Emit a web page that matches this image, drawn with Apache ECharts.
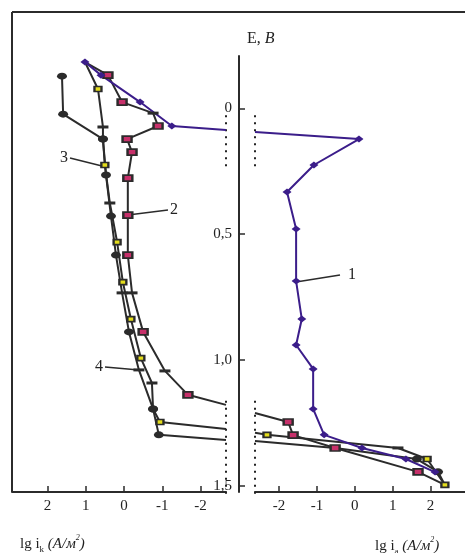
<!DOCTYPE html>
<html>
<head>
<meta charset="utf-8">
<script src="https://cdn.jsdelivr.net/npm/echarts@6/dist/echarts.min.js"></script>
<style>
  html, body { margin: 0; background: #fff; }
  #chart { width: 465px; height: 553px; }
</style>
</head>
<body>
<div id="chart"></div>
<script>
// axis ticks
const xTicks = [-2, -1, 0, 1, 2];
const yTicks = [0, 0.5, 1.0, 1.5];

// [lg i, E] points; marker letters: p diamond, s square, y triangle, d dash, o circle, n none
// curve 1
const c1Cath = [[1.02, -0.184], [0.60, -0.132], [-0.42, -0.025], [-1.25, 0.070], [-2.665, 0.086]];
const c1CathMk = 'ppppn';
const c1Anod = [[-2.636, 0.094], [0.11, 0.122], [-1.08, 0.225], [-1.79, 0.332], [-1.55, 0.479],
  [-1.55, 0.686], [-1.40, 0.837], [-1.55, 0.940], [-1.10, 1.035], [-1.10, 1.194], [-0.81, 1.297],
  [0.19, 1.349], [1.35, 1.393], [2.12, 1.445]];
const c1AnodMk = 'nppppppppppppp';
// curve 2
const c2Cath = [[1.02, -0.184], [0.42, -0.132], [0.05, -0.025], [-0.76, 0.019], [-0.89, 0.070],
  [-0.08, 0.122], [-0.21, 0.174], [-0.10, 0.277], [-0.10, 0.424], [-0.10, 0.583], [-0.21, 0.733],
  [-0.50, 0.888], [-1.07, 1.043], [-1.67, 1.138], [-2.665, 1.178]];
const c2CathMk = 'nssdssssssdsdsn';
const c2Anod = [[-2.636, 1.210], [-1.76, 1.246], [-1.63, 1.298], [-0.52, 1.349], [1.67, 1.444], [2.38, 1.496]];
const c2AnodMk = 'nssssn';
// curve 3
const c3Cath = [[1.02, -0.184], [0.68, -0.077], [0.55, 0.074], [0.55, 0.122], [0.50, 0.225],
  [0.37, 0.376], [0.18, 0.531], [0.03, 0.690], [-0.18, 0.837], [-0.44, 0.992], [-0.73, 1.091],
  [-0.76, 1.194], [-0.94, 1.246], [-2.665, 1.274]];
const c3CathMk = 'nydoydyyyydoyn';
const c3Anod = [[-2.636, 1.289], [-2.32, 1.297], [1.14, 1.349], [1.91, 1.393], [2.38, 1.496]];
const c3AnodMk = 'nydyy';
// curve 4
const c4Cath = [[1.62, -0.128], [1.59, 0.023], [0.55, 0.122], [0.47, 0.265], [0.34, 0.428],
  [0.21, 0.583], [0.05, 0.733], [-0.13, 0.888], [-0.39, 1.039], [-0.76, 1.194], [-0.91, 1.297],
  [-2.665, 1.317]];
const c4CathMk = 'oooooododoon';
const c4Anod = [[-2.636, 1.321], [-0.52, 1.349], [1.64, 1.393], [2.20, 1.444], [2.38, 1.496]];
const c4AnodMk = 'nnoon';

// axis break spans (E)
const breakSpans = [[0.027, 0.245], [1.162, 1.544]];

// curve number callouts: [grid, from, to, text]
const callouts = [
  [1, [-1.553, 0.690], [-0.391, 0.662], '1'],
  [0, [-0.104, 0.424], [-1.149, 0.404], '2'],
  [0, [0.575, 0.229], [1.411, 0.197], '3'],
  [0, [-0.392, 1.039], [0.496, 1.027], '4']
];

const serif = 'Liberation Serif';
const ink = '#2b2b2b';
const violet = '#3b1d8a';

const markers = {
  p: { symbol: 'diamond', symbolSize: [9, 7], itemStyle: { color: violet } },
  s: { symbol: 'rect', symbolSize: [9, 6], itemStyle: { color: '#c7306a', borderColor: ink, borderWidth: 2 } },
  y: { symbol: 'rect', symbolSize: [7, 5], itemStyle: { color: '#e3dc1c', borderColor: ink, borderWidth: 2 } },
  d: { symbol: 'rect', symbolSize: [11, 3], itemStyle: { color: ink } },
  o: { symbol: 'circle', symbolSize: [10, 7], itemStyle: { color: ink } },
  n: { symbol: 'none' }
};

function curve(grid, values, marks, color) {
  return {
    type: 'line', xAxisIndex: grid, yAxisIndex: grid, clip: false,
    data: values.map((v, i) => Object.assign({ value: v }, markers[marks[i]])),
    lineStyle: { color: color, width: 2 },
    itemStyle: { color: color },
    animation: false
  };
}

function breakLine(grid, edge, span) {
  return {
    type: 'line', xAxisIndex: grid, yAxisIndex: grid, clip: false, silent: true,
    data: span.map(e => [edge, e]), symbol: 'none',
    lineStyle: { color: '#222', width: 2, type: [2, 5] },
    animation: false
  };
}

function callout(c) {
  const side = c[0] === 1 || c[3] === '2' ? 'right' : 'left';
  return {
    type: 'line', xAxisIndex: c[0], yAxisIndex: c[0], clip: false, silent: true,
    symbol: 'circle', symbolSize: 0,
    data: [{ value: c[1] }, {
      value: c[2],
      label: { show: true, formatter: c[3], position: side, distance: c[3] === '1' ? 8 : 2,
        fontFamily: serif, fontSize: 16, color: '#222' }
    }],
    lineStyle: { color: ink, width: 1.5 },
    itemStyle: { color: ink },
    animation: false
  };
}

const axisLineStyle = { color: ink, width: 2 };
function xAxisFor(grid, min, max, inverse) {
  return {
    gridIndex: grid, type: 'value', inverse: inverse, min: min, max: max,
    axisLine: { show: true, onZero: false, lineStyle: axisLineStyle },
    axisTick: { show: true, inside: true, length: 6, customValues: xTicks, lineStyle: { color: ink, width: 1.5 } },
    axisLabel: { customValues: xTicks, margin: 7, fontFamily: serif, fontSize: 15, color: '#222' },
    splitLine: { show: false }
  };
}

const chart = echarts.init(document.getElementById('chart'), null, { renderer: 'canvas' });
chart.setOption({
  animation: false,
  backgroundColor: '#fff',
  textStyle: { fontFamily: serif },
  grid: [
    { left: 12, top: 56, width: 214, height: 436 },
    { left: 255, top: 56, width: 210, height: 436 }
  ],
  xAxis: [
    xAxisFor(0, -2.665, 2.926, true),
    xAxisFor(1, -2.636, 2.911, false)
  ],
  yAxis: [
    { gridIndex: 0, type: 'value', inverse: true, min: -0.208, max: 1.524, show: false },
    {
      gridIndex: 1, type: 'value', inverse: true, min: -0.208, max: 1.524,
      position: 'left', offset: 16,
      axisLine: { show: true, onZero: false, lineStyle: axisLineStyle },
      axisTick: { show: true, inside: true, length: 6, customValues: yTicks, lineStyle: { color: ink, width: 1.5 } },
      axisLabel: {
        customValues: yTicks, margin: 7, fontFamily: serif, fontSize: 15, color: '#222',
        formatter: v => v === 0 ? '0' : v.toFixed(1).replace('.', ',')
      },
      splitLine: { show: false }
    }
  ],
  graphic: [
    { type: 'line', shape: { x1: 12, y1: 12, x2: 465, y2: 12 }, style: { stroke: ink, lineWidth: 2 } },
    { type: 'line', shape: { x1: 12, y1: 12, x2: 12, y2: 492 }, style: { stroke: ink, lineWidth: 2 } },
    {
      type: 'text', left: 247, top: 31,
      style: {
        text: '{n|E, }{i|B}', fill: '#222',
        rich: {
          n: { fontFamily: serif, fontSize: 16 },
          i: { fontFamily: serif, fontSize: 16, fontStyle: 'italic' }
        }
      }
    },
    {
      type: 'text', left: 20, top: 534,
      style: {
        text: '{n|lg i}{sub|k}{i| (A/м}{sup|2}{i|)}', fill: '#222',
        rich: {
          n: { fontFamily: serif, fontSize: 15, lineHeight: 20 },
          i: { fontFamily: serif, fontSize: 15, fontStyle: 'italic', lineHeight: 20 },
          sub: { fontFamily: serif, fontSize: 9, lineHeight: 10, verticalAlign: 'bottom' },
          sup: { fontFamily: serif, fontSize: 8, fontStyle: 'italic', lineHeight: 10, verticalAlign: 'top' }
        }
      }
    },
    {
      type: 'text', left: 375, top: 536,
      style: {
        text: '{n|lg i}{sub|a}{i| (A/м}{sup|2}{i|)}', fill: '#222',
        rich: {
          n: { fontFamily: serif, fontSize: 15, lineHeight: 20 },
          i: { fontFamily: serif, fontSize: 15, fontStyle: 'italic', lineHeight: 20 },
          sub: { fontFamily: serif, fontSize: 9, lineHeight: 10, verticalAlign: 'bottom' },
          sup: { fontFamily: serif, fontSize: 8, fontStyle: 'italic', lineHeight: 10, verticalAlign: 'top' }
        }
      }
    }
  ],
  series: [
    breakLine(0, -2.665, breakSpans[0]),
    breakLine(0, -2.665, breakSpans[1]),
    breakLine(1, -2.636, breakSpans[0]),
    breakLine(1, -2.636, breakSpans[1]),
    curve(0, c4Cath, c4CathMk, ink),
    curve(1, c4Anod, c4AnodMk, ink),
    curve(0, c3Cath, c3CathMk, ink),
    curve(1, c3Anod, c3AnodMk, ink),
    curve(0, c2Cath, c2CathMk, ink),
    curve(1, c2Anod, c2AnodMk, ink),
    curve(0, c1Cath, c1CathMk, violet),
    curve(1, c1Anod, c1AnodMk, violet)
  ].concat(callouts.map(callout))
});
</script>
</body>
</html>
